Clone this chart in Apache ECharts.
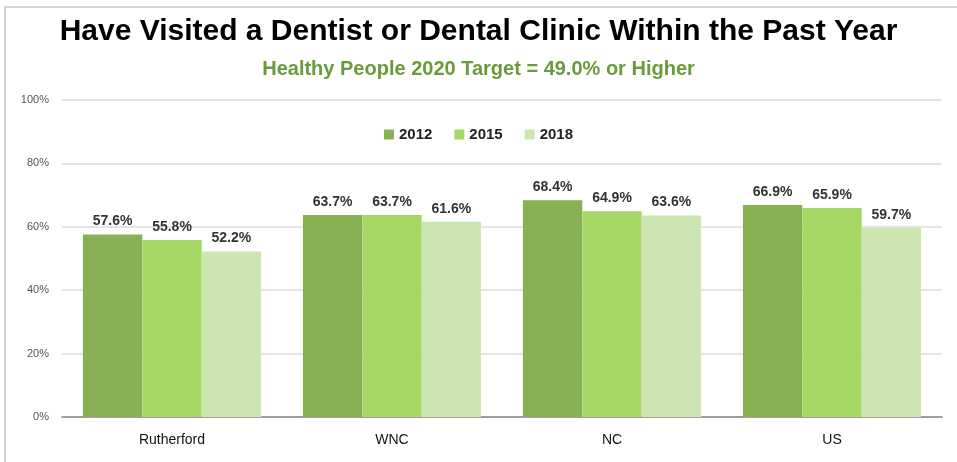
<!DOCTYPE html>
<html><head><meta charset="utf-8">
<script src="https://cdn.jsdelivr.net/npm/echarts@6/dist/echarts.min.js"></script>
<style>html,body{margin:0;padding:0;background:#fff}#c{width:957px;height:462px}</style>
</head><body><div id="c"></div>
<script>
const categories = ['Rutherford', 'WNC', 'NC', 'US'];
const seriesNames = ['2012', '2015', '2018'];
const values2012 = [57.6, 63.7, 68.4, 66.9];
const values2015 = [55.8, 63.7, 64.9, 65.9];
const values2018 = [52.2, 61.6, 63.6, 59.7];
const yTicks = [0, 20, 40, 60, 80, 100];
const colors = ['#88b153', '#a6d765', '#cce6b1'];
const allValues = [values2012, values2015, values2018];

const chart = echarts.init(document.getElementById('c'));
chart.setOption({
  animation: false,
  graphic: [{type:'rect', shape:{x:5, y:7, width:960, height:470}, style:{fill:'none', stroke:'#c8c8c8', lineWidth:1.5}}],
  title: [
    {text:'Have Visited a Dentist or Dental Clinic Within the Past Year', left:'center', top:12,
     textStyle:{fontFamily:'Liberation Sans, Arial', fontWeight:'bold', fontSize:30, color:'#000'}},
    {text:'Healthy People 2020 Target = 49.0% or Higher', left:'center', top:54,
     textStyle:{fontFamily:'Liberation Sans, Arial', fontWeight:'bold', fontSize:20, color:'#6b9a3a'}}
  ],
  legend: {top:122, left:'center', itemWidth:10, itemHeight:10, itemGap:22, icon:'rect',
    textStyle:{fontFamily:'Liberation Sans, Arial', fontWeight:'bold', fontSize:15, color:'#222'},
    data: seriesNames},
  grid: {left:62, right:15, top:100, bottom:45},
  xAxis: {type:'category', data:categories,
    axisLine:{lineStyle:{color:'#888', width:1.5}}, axisTick:{show:false},
    axisLabel:{margin:16, fontFamily:'Liberation Sans, Arial', fontSize:14, color:'#111'}},
  yAxis: {type:'value', min:yTicks[0], max:yTicks[yTicks.length-1], interval:20,
    axisLine:{show:false}, axisTick:{show:false},
    splitLine:{lineStyle:{color:'#dcdcdc', width:1.5}},
    axisLabel:{formatter:'{value}%', margin:13, fontFamily:'Liberation Sans, Arial', fontSize:11, color:'#555'}},
  series: seriesNames.map((n,i)=>({
    name:n, type:'bar', data:allValues[i], barGap:'0%', barCategoryGap:'19%',
    itemStyle:{color:colors[i]},
    label:{show:true, position:'top', distance:6, formatter:p=>p.value.toFixed(1)+'%',
      fontFamily:'Liberation Sans, Arial', fontWeight:'bold', fontSize:14, color:'#333'}
  }))
});
</script></body></html>
